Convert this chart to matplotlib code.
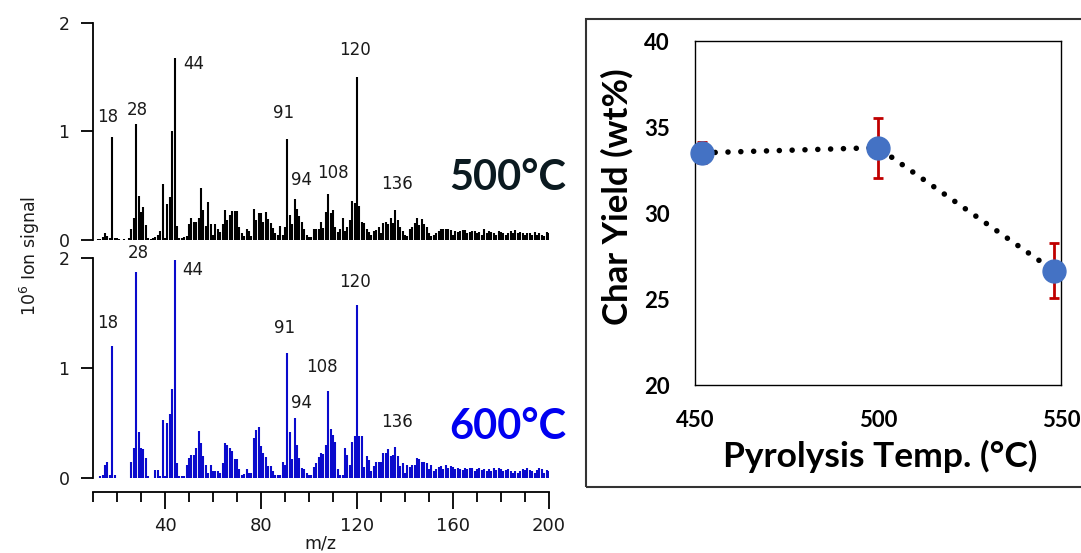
import numpy as np
import matplotlib
matplotlib.use('Agg')
import matplotlib.pyplot as plt
from matplotlib.patches import Rectangle

# ---- mass spectra (m/z 12..200), signal in 10^6 counts ----
mz = np.arange(12, 201)

sig_500 = [
    0.01, 0.01, 0.03, 0.06, 0.04, 0.02, 0.95, 0.02, 0.02, 0.01,   # 12-21
    0.00, 0.01, 0.00, 0.02, 0.10, 0.20, 1.07, 0.41, 0.26, 0.30,   # 22-31
    0.14, 0.02, 0.01, 0.02, 0.03, 0.05, 0.08, 0.52, 0.02, 0.33,   # 32-41
    0.40, 1.00, 1.68, 0.13, 0.02, 0.02, 0.03, 0.04, 0.15, 0.20,   # 42-51
    0.17, 0.17, 0.20, 0.48, 0.28, 0.13, 0.35, 0.15, 0.05, 0.15,   # 52-61
    0.10, 0.07, 0.15, 0.28, 0.18, 0.23, 0.27, 0.27, 0.27, 0.12,   # 62-71
    0.06, 0.04, 0.10, 0.08, 0.04, 0.29, 0.18, 0.25, 0.25, 0.17,   # 72-81
    0.26, 0.19, 0.16, 0.11, 0.06, 0.05, 0.13, 0.05, 0.12, 0.93,   # 82-91
    0.23, 0.15, 0.38, 0.29, 0.22, 0.17, 0.10, 0.05, 0.03, 0.03,   # 92-101
    0.10, 0.10, 0.10, 0.17, 0.11, 0.26, 0.42, 0.25, 0.28, 0.12,   # 102-111
    0.07, 0.10, 0.20, 0.08, 0.12, 0.18, 0.36, 0.34, 1.50, 0.31,   # 112-121
    0.17, 0.16, 0.10, 0.07, 0.05, 0.08, 0.09, 0.12, 0.06, 0.16,   # 122-131
    0.17, 0.15, 0.20, 0.16, 0.28, 0.18, 0.12, 0.08, 0.05, 0.04,   # 132-141
    0.10, 0.12, 0.16, 0.20, 0.14, 0.19, 0.15, 0.12, 0.06, 0.04,   # 142-151
    0.05, 0.06, 0.08, 0.10, 0.10, 0.10, 0.10, 0.09, 0.05, 0.08,   # 152-161
    0.07, 0.08, 0.09, 0.09, 0.06, 0.07, 0.08, 0.08, 0.06, 0.07,   # 162-171
    0.05, 0.10, 0.06, 0.08, 0.07, 0.06, 0.05, 0.08, 0.07, 0.06,   # 172-181
    0.05, 0.06, 0.08, 0.06, 0.09, 0.06, 0.07, 0.06, 0.05, 0.06,   # 182-191
    0.06, 0.05, 0.07, 0.05, 0.06, 0.05, 0.04, 0.07, 0.06,         # 192-200
]

sig_600 = [
    0.00, 0.02, 0.03, 0.12, 0.15, 0.03, 1.20, 0.03, 0.00, 0.00,   # 12-21
    0.00, 0.00, 0.00, 0.00, 0.15, 0.27, 1.87, 0.42, 0.27, 0.26,   # 22-31
    0.18, 0.02, 0.00, 0.00, 0.07, 0.07, 0.02, 0.53, 0.02, 0.50,   # 32-41
    0.58, 0.81, 1.98, 0.14, 0.02, 0.02, 0.02, 0.12, 0.18, 0.21,   # 42-51
    0.21, 0.27, 0.43, 0.32, 0.20, 0.12, 0.05, 0.12, 0.06, 0.06,   # 52-61
    0.06, 0.05, 0.14, 0.32, 0.30, 0.27, 0.25, 0.17, 0.17, 0.08,   # 62-71
    0.03, 0.04, 0.08, 0.05, 0.05, 0.36, 0.44, 0.46, 0.29, 0.23,   # 72-81
    0.19, 0.11, 0.11, 0.06, 0.03, 0.03, 0.03, 0.15, 0.12, 1.14,   # 82-91
    0.42, 0.17, 0.55, 0.30, 0.18, 0.09, 0.08, 0.05, 0.03, 0.03,   # 92-101
    0.10, 0.14, 0.19, 0.23, 0.22, 0.30, 0.79, 0.45, 0.39, 0.33,   # 102-111
    0.08, 0.03, 0.03, 0.27, 0.21, 0.12, 0.33, 0.38, 1.57, 0.38,   # 112-121
    0.38, 0.10, 0.20, 0.16, 0.06, 0.11, 0.15, 0.15, 0.15, 0.23,   # 122-131
    0.23, 0.26, 0.20, 0.21, 0.28, 0.20, 0.11, 0.14, 0.05, 0.12,   # 132-141
    0.10, 0.12, 0.12, 0.18, 0.17, 0.15, 0.15, 0.14, 0.08, 0.12,   # 142-151
    0.06, 0.08, 0.10, 0.11, 0.08, 0.12, 0.09, 0.11, 0.10, 0.08,   # 152-161
    0.09, 0.08, 0.07, 0.09, 0.08, 0.09, 0.09, 0.06, 0.08, 0.09,   # 162-171
    0.07, 0.08, 0.06, 0.08, 0.06, 0.09, 0.07, 0.09, 0.08, 0.06,   # 172-181
    0.07, 0.08, 0.06, 0.05, 0.06, 0.05, 0.06, 0.08, 0.07, 0.09,   # 182-191
    0.07, 0.06, 0.05, 0.07, 0.09, 0.08, 0.05, 0.07, 0.06,         # 192-200
]

# peak labels: (text, x, y) in data coords of each panel
labels_500 = [('18', 16.3, 1.13), ('28', 28.3, 1.20), ('44', 52.0, 1.62),
              ('91', 89.6, 1.17), ('94', 97.0, 0.55), ('108', 110.0, 0.62),
              ('120', 119.0, 1.75), ('136', 136.7, 0.52)]
labels_600 = [('18', 16.3, 1.41), ('28', 28.8, 2.05), ('44', 51.7, 1.89),
              ('91', 90.0, 1.36), ('94', 97.0, 0.68), ('108', 105.4, 1.01),
              ('120', 119.0, 1.78), ('136', 136.7, 0.51)]

# ---- char yield ----
temps = [452, 500, 548]
char_yield = [33.5, 33.8, 26.65]
char_err = [0.6, 1.75, 1.6]

W, H = 1081, 553
fig = plt.figure(figsize=(W / 100, H / 100), dpi=100)

txt_col = '#1a1a1a'
spec_font = 'DejaVu Sans'


def spec_axes(rect):
    ax = fig.add_axes(rect)
    ax.set_xlim(10, 200)
    ax.set_ylim(0, 2)
    for s in ['top', 'right']:
        ax.spines[s].set_visible(False)
    ax.spines['left'].set_linewidth(1.3)
    ax.set_yticks([0, 1, 2])
    ax.set_yticklabels(['0', '1', '2'], fontsize=12.5, family=spec_font, color=txt_col)
    ax.tick_params(axis='y', length=9, width=1.3, pad=8)
    return ax


ax1 = spec_axes([93 / W, 1 - 240 / H, 456 / W, 217 / H])
ax1.spines['bottom'].set_visible(False)
ax1.set_xticks([])
ax1.vlines(mz, 0, sig_500, color='black', lw=1.5)
for t, x, y in labels_500:
    ax1.text(x, y, t, ha='center', va='center', fontsize=12, family=spec_font, color=txt_col)

ax2 = spec_axes([93 / W, 1 - 478 / H, 456 / W, 220 / H])
ax2.vlines(mz, 0, sig_600, color='#0a0acc', lw=1.5)
ax2.spines['bottom'].set_position(('outward', 10))
ax2.spines['bottom'].set_linewidth(1.3)
ax2.set_xticks([40, 80, 120, 160, 200])
ax2.set_xticks(np.arange(10, 201, 10), minor=True)
ax2.set_xticklabels(['40', '80', '120', '160', '200'], fontsize=13, family=spec_font, color=txt_col)
ax2.tick_params(axis='x', which='major', length=12, width=1.3, pad=6)
ax2.tick_params(axis='x', which='minor', length=7, width=1.3)
for t, x, y in labels_600:
    ax2.text(x, y, t, ha='center', va='center', fontsize=12, family=spec_font,
             color=txt_col, clip_on=False)

fig.text(30 / W, 1 - 256 / H, r'10$^6$ Ion signal', rotation=90, ha='center', va='center',
         fontsize=12.5, family=spec_font, color=txt_col)
fig.text(320 / W, 1 - 543 / H, 'm/z', ha='center', va='center', fontsize=12.5,
         family=spec_font, color=txt_col)

fig.text(508 / W, 1 - 178 / H, '500°C', ha='center', va='center', fontsize=30,
         fontweight='bold', family='Lato', color='#0b1a20')
fig.text(508 / W, 1 - 427 / H, '600°C', ha='center', va='center', fontsize=30,
         fontweight='bold', family='Lato', color='#0000f0')

# ---- right panel ----
fig.patches.append(Rectangle((586 / W, 1 - 487 / H), 520 / W, 468 / H,
                             transform=fig.transFigure, fill=False,
                             edgecolor='#333333', lw=1.5))

ax3 = fig.add_axes([695 / W, 1 - 385 / H, 366 / W, 344 / H])
ax3.set_xlim(450, 550)
ax3.set_ylim(20, 40)
ax3.set_xticks([450, 500, 550])
ax3.set_yticks([20, 25, 30, 35, 40])
ax3.tick_params(length=0, labelsize=16)
for lab in ax3.get_xticklabels() + ax3.get_yticklabels():
    lab.set_fontweight('bold')
    lab.set_family('Lato')
ax3.tick_params(axis='x', pad=18)
ax3.tick_params(axis='y', pad=18)
for s in ax3.spines.values():
    s.set_linewidth(1.0)
ax3.plot(temps, char_yield, color='black', lw=4, linestyle=(0, (0.01, 2.3)),
         dash_capstyle='round', zorder=2)
ax3.errorbar(temps, char_yield, yerr=char_err, fmt='none', ecolor='#c00000',
             elinewidth=2, capsize=3.5, capthick=2, zorder=3)
ax3.plot(temps, char_yield, 'o', color='#4472c4', markersize=16.5, zorder=4, clip_on=False)
ax3.set_ylabel('Char Yield (wt%)', fontsize=25, fontweight='bold', family='Lato')
ax3.set_xlabel('Pyrolysis Temp. (°C)', fontsize=25.5, fontweight='bold', family='Lato')
ax3.yaxis.set_label_coords((634 - 695) / 366, (385 - 197) / 344)
ax3.xaxis.set_label_coords((880 - 695) / 366, -(440 - 385) / 344)

fig.savefig('out.png', dpi=100)
